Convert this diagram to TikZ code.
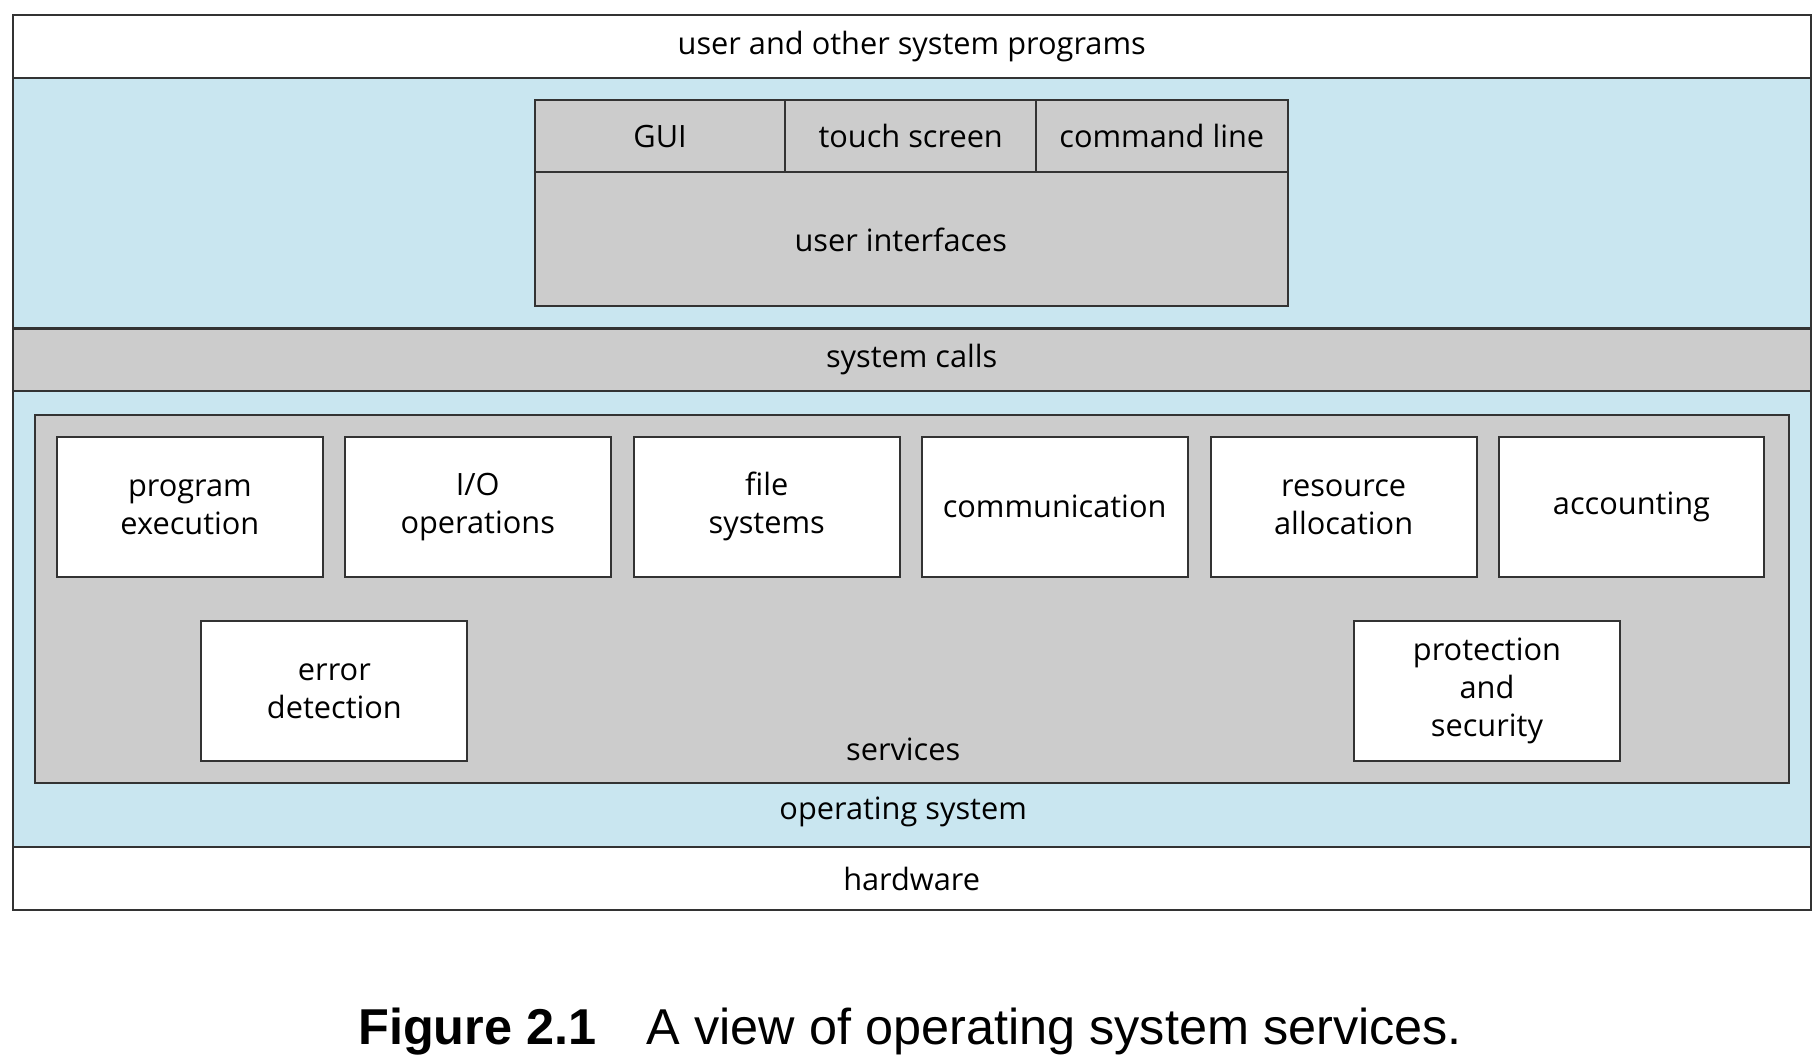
\documentclass[tikz,border=0pt]{standalone}
\usepackage{fontspec}
\setmainfont{Open Sans}
\newfontfamily\capfont{Liberation Sans}
\definecolor{osblue}{RGB}{201,230,240}
\definecolor{osgray}{RGB}{204,204,204}
\tikzset{
  layer/.style={draw=black!80, line width=0.5pt, anchor=north west, inner sep=0pt, font=\fontsize{7.5}{9.3}\selectfont},
  svcbox/.style={layer, fill=white, minimum width=2.28cm, minimum height=1.2cm, align=center},
}
\begin{document}
\begin{tikzpicture}[x=0.01cm, y=-0.01cm]
  \useasboundingbox (0,0) rectangle (1560,913);
  % layers
  \node[layer, fill=white, minimum width=15.42cm, minimum height=0.54cm] (user) at (10,12) {user and other system programs};
  \node[layer, fill=osblue, minimum width=15.42cm, minimum height=2.15cm] (uiband) at (10,66) {};
  \node[layer, fill=osgray, minimum width=15.42cm, minimum height=0.54cm] (syscalls) at (10,281) {system calls};
  \node[layer, fill=osblue, minimum width=15.42cm, minimum height=3.91cm] (os) at (10,335) {};
  \node[layer, fill=white, minimum width=15.42cm, minimum height=0.54cm] (hw) at (10,726) {hardware};
  \node[font=\fontsize{7.5}{9.3}\selectfont] (oslabel) at (775,697) {operating system};
  % user interfaces
  \node[layer, fill=osgray, minimum width=6.46cm, minimum height=1.77cm] (ui) at (458,85) {};
  \node[font=\fontsize{7.5}{9.3}\selectfont] (uilabel) at (773,206) {user interfaces};
  \node[layer, fill=osgray, minimum width=2.15cm, minimum height=0.62cm] (gui) at (458,85) {GUI};
  \node[layer, fill=osgray, minimum width=2.15cm, minimum height=0.62cm] (touch) at (673,85) {touch screen};
  \node[layer, fill=osgray, minimum width=2.16cm, minimum height=0.62cm] (cmd) at (888,85) {command line};
  % services
  \node[layer, fill=osgray, minimum width=15.04cm, minimum height=3.16cm] (services) at (29,355) {};
  \node[font=\fontsize{7.5}{9.3}\selectfont] (svclabel) at (775,643) {services};
  \node[svcbox] (exec) at (48,374) {program\\execution};
  \node[svcbox] (io) at (295,374) {I/O\\operations};
  \node[svcbox] (fs) at (543,374) {file\\systems};
  \node[svcbox] (comm) at (790,374) {communication};
  \node[svcbox] (alloc) at (1038,374) {resource\\allocation};
  \node[svcbox] (acct) at (1285,374) {accounting};
  \node[svcbox] (err) at (172,532) {error\\detection};
  \node[svcbox] (prot) at (1161,532) {protection\\and\\security};
  % caption
  \node[font=\capfont\fontsize{12.3}{14}\selectfont] (caption) at (781,885) {\textbf{Figure 2.1}\hspace{1em}A view of operating system services.};
\end{tikzpicture}
\end{document}
